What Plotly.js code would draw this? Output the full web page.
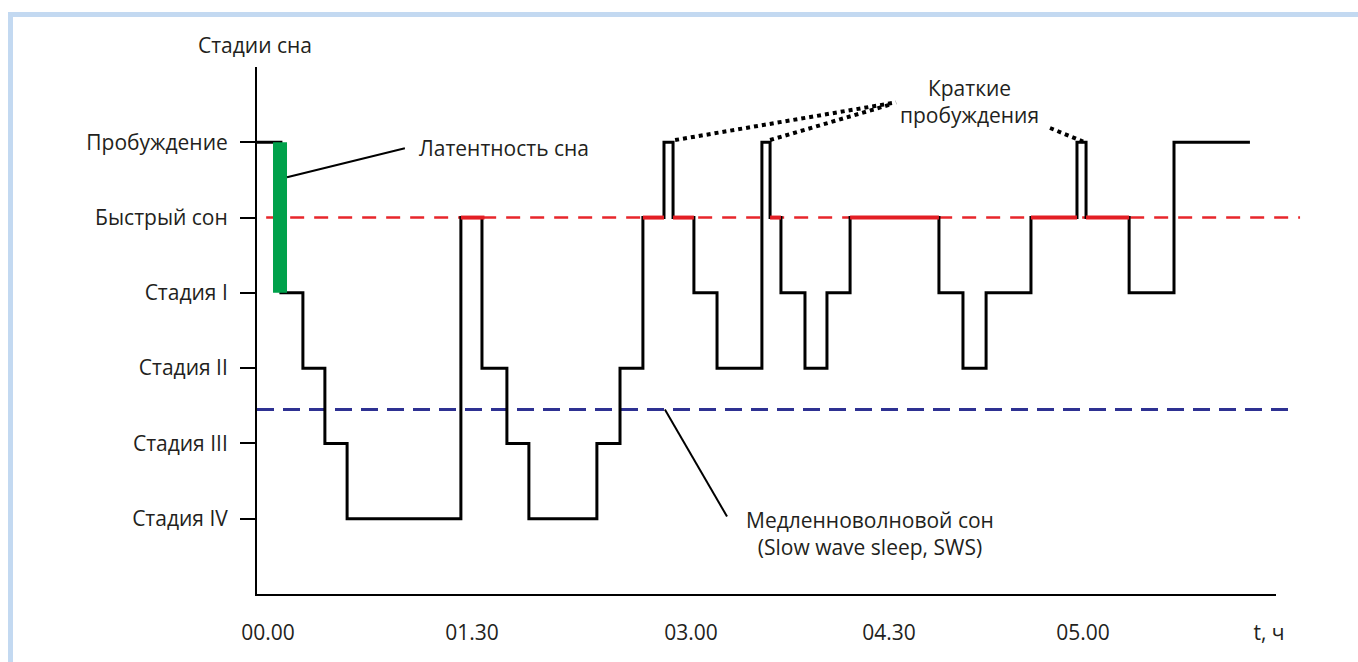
<!DOCTYPE html>
<html>
<head>
<meta charset="utf-8">
<script src="https://cdn.plot.ly/plotly-3.0.1.min.js"></script>
<style>
  html, body { margin: 0; padding: 0; background: #fff; }
  #chart { position: absolute; left: 0; top: 0; width: 1358px; height: 662px; }
  #frame { position: absolute; left: 8px; top: 12px; right: 0; bottom: 0;
           border-top: 5px solid #c3d9f1; border-left: 5px solid #c3d9f1; pointer-events: none; }
</style>
</head>
<body>
<div id="chart"></div>
<div id="frame"></div>
<script>
// ---- data ----
const stageValues = [0, 1, 2, 3, 4, 5];
const stageLabels = ['Стадия IV', 'Стадия III', 'Стадия II', 'Стадия I', 'Быстрый сон', 'Пробуждение'];

const timeTickPos = [0, 90, 186.6, 274, 359.6, 441.6];   // minutes
const timeTickLabels = ['00.00', '01.30', '03.00', '04.30', '05.00', 't, ч'];

// hypnogram: start time of each epoch (min) and stage
const hypnoTime  = [-4.85, 5.7, 15.4, 25.1, 34.9, 85.1, 94.4, 105.4, 115.1, 145.1, 155.3, 165.4, 174.7, 178.7, 187.9, 198.1, 217.9, 221.5, 226.3, 236.9, 246.6, 256.8, 296.0, 306.6, 316.8, 336.6, 356.9, 360.9, 379.9, 399.7, 433.2];
const hypnoStage = [5, 3, 2, 1, 0, 4, 2, 1, 0, 1, 2, 4, 5, 4, 3, 2, 5, 4, 3, 2, 3, 4, 3, 2, 3, 4, 5, 4, 3, 5, 5];

// REM episodes (min)
const remStart = [85.1, 165.4, 178.7, 221.5, 256.8, 336.6, 360.9];
const remEnd   = [95.5, 174.7, 187.9, 226.3, 296.0, 356.9, 379.9];

// sleep latency bar
const latencyTime = [5.3, 5.3];
const latencyStage = [5, 3];

const remLevel = 4;
const swsLevel = 1.45;

// ---- traces ----
const remX = [], remY = [];
for (let i = 0; i < remStart.length; i++) {
  remX.push(remStart[i], remEnd[i], null);
  remY.push(remLevel, remLevel, null);
}

const FONT = '"Open Sans", "Noto Sans", sans-serif';
const TXT = '#231f20';
const FS = 21;

const traces = [
  { x: hypnoTime, y: hypnoStage, type: 'scatter', mode: 'lines',
    line: { shape: 'hv', color: '#000', width: 3 }, hoverinfo: 'skip' },
  { x: remX, y: remY, type: 'scatter', mode: 'lines',
    line: { color: '#e31e24', width: 4 }, hoverinfo: 'skip' },
  { x: latencyTime, y: latencyStage, type: 'scatter', mode: 'lines',
    line: { color: '#00a14b', width: 14 }, hoverinfo: 'skip' }
];

const layout = {
  width: 1358, height: 662,
  margin: { l: 257, r: 82, t: 67, b: 68 },
  paper_bgcolor: '#fff', plot_bgcolor: '#fff',
  showlegend: false,
  font: { family: FONT, size: FS, color: TXT },
  xaxis: {
    range: [-4.85, 444.7], showgrid: false, zeroline: false,
    showline: true, linecolor: '#000', linewidth: 2,
    tickmode: 'array', tickvals: timeTickPos, ticktext: timeTickLabels,
    ticks: '', tickfont: { family: FONT, size: FS, color: TXT },
    ticklabelstandoff: 19
  },
  yaxis: {
    range: [-1, 6], showgrid: false, zeroline: false,
    showline: true, linecolor: '#000', linewidth: 2,
    tickmode: 'array', tickvals: stageValues, ticktext: stageLabels,
    ticks: 'outside', ticklen: 15, tickwidth: 2, tickcolor: '#000',
    tickfont: { family: FONT, size: FS, color: TXT },
    ticklabelstandoff: 8
  },
  shapes: [
    { type: 'line', xref: 'paper', yref: 'y', x0: 0.009, x1: 1.0236, y0: remLevel, y1: remLevel,
      line: { color: '#e8262b', width: 2.5, dash: '14px,10px' }, layer: 'below' },
    { type: 'line', xref: 'paper', yref: 'y', x0: 0, x1: 1.0147, y0: swsLevel, y1: swsLevel,
      line: { color: '#2e3192', width: 3, dash: '17px,9px' }, layer: 'below' },
    // leader lines
    { type: 'line', xref: 'x', yref: 'y', x0: 8.4, y0: 4.535, x1: 60.4, y1: 4.92,
      line: { color: '#000', width: 2 } },
    { type: 'line', xref: 'x', yref: 'y', x0: 175.1, y0: swsLevel, x1: 202.5, y1: 0.03,
      line: { color: '#000', width: 2 } },
    // dotted pointers to brief awakenings
    { type: 'line', xref: 'x', yref: 'y', x0: 179.6, y0: 5.03, x1: 277.1, y1: 5.53,
      line: { color: '#000', width: 4, dash: 'dot' } },
    { type: 'line', xref: 'x', yref: 'y', x0: 221.5, y0: 5.03, x1: 274.4, y1: 5.50,
      line: { color: '#000', width: 4, dash: 'dot' } },
    { type: 'line', xref: 'x', yref: 'y', x0: 345, y0: 5.19, x1: 359.6, y1: 5.01,
      line: { color: '#000', width: 4, dash: 'dot' } }
  ],
  annotations: [
    { text: 'Стадии сна', xref: 'paper', yref: 'paper', x: -0.002, y: 1.0417,
      xanchor: 'center', yanchor: 'middle', showarrow: false, font: { family: FONT, size: FS, color: TXT } },
    { text: 'Латентность сна', xref: 'x', yref: 'y', x: 65.7, y: 4.93,
      xanchor: 'left', yanchor: 'middle', showarrow: false, font: { family: FONT, size: FS, color: TXT } },
    { text: 'Краткие<br>пробуждения', xref: 'x', yref: 'y', x: 309.3, y: 5.545,
      xanchor: 'center', yanchor: 'middle', showarrow: false, font: { family: FONT, size: FS, color: TXT } },
    { text: 'Медленноволновой сон<br>(Slow wave sleep, SWS)', xref: 'x', yref: 'y', x: 265.5, y: -0.2,
      xanchor: 'center', yanchor: 'middle', showarrow: false, font: { family: FONT, size: FS, color: TXT } }
  ]
};

Plotly.newPlot('chart', traces, layout, { staticPlot: true, displayModeBar: false });
</script>
</body>
</html>
